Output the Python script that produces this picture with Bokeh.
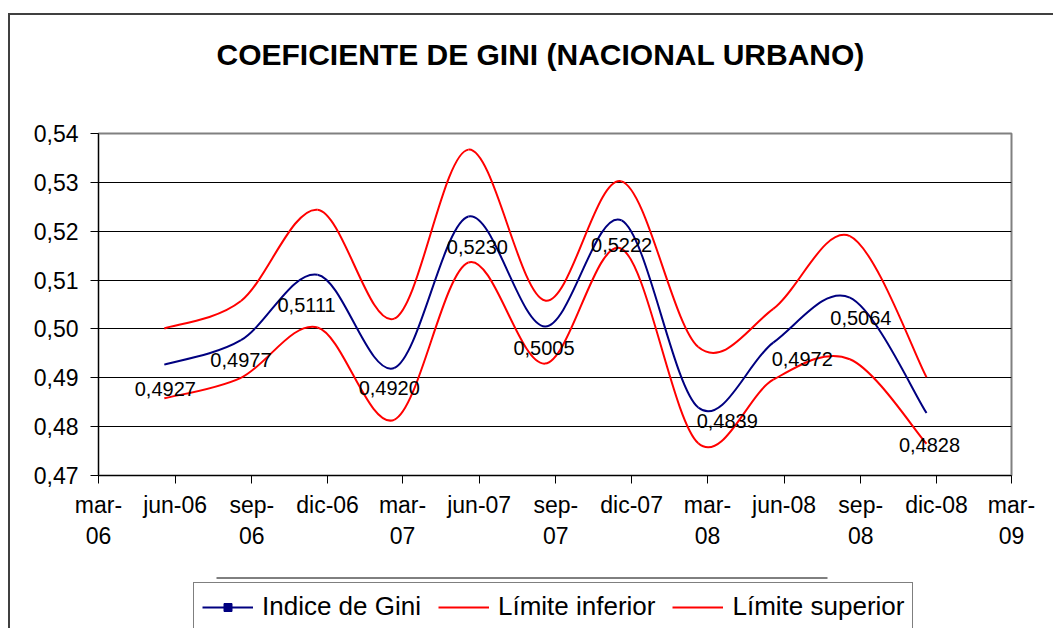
import pandas as pd
from bokeh.plotting import figure
from bokeh.layouts import column
from bokeh.models import (Range1d, FixedTicker, CustomJSTickFormatter, ColumnDataSource,
                          Legend, LegendItem)
from bokeh.core.properties import value
from bokeh.embed import file_html
from bokeh.resources import INLINE

# ---------------- data ----------------
titulo = "COEFICIENTE DE GINI (NACIONAL URBANO)"
fechas = ["2006-05-19", "2006-08-19", "2006-11-19", "2007-02-19", "2007-05-19",
          "2007-08-19", "2007-11-19", "2008-02-19", "2008-05-19", "2008-08-19",
          "2008-11-19"]
gini = [0.4927, 0.4977, 0.5111, 0.4920, 0.5230, 0.5005, 0.5222, 0.4839, 0.4972, 0.5064, 0.4828]
lim_inf = [0.4858, 0.4900, 0.5003, 0.4814, 0.5136, 0.4929, 0.5164, 0.4766, 0.4896, 0.4938, 0.4765]
lim_sup = [0.5001, 0.5057, 0.5244, 0.5021, 0.5367, 0.5058, 0.5302, 0.4963, 0.5041, 0.5190, 0.4901]
serie_nombres = ["Indice de Gini", "Límite inferior", "Límite superior"]

tick_fechas = ["2006-03-01", "2006-06-01", "2006-09-01", "2006-12-01", "2007-03-01",
               "2007-06-01", "2007-09-01", "2007-12-01", "2008-03-01", "2008-06-01",
               "2008-09-01", "2008-12-01", "2009-03-01"]
tick_etiquetas = ["mar-\n06", "jun-06", "sep-\n06", "dic-06", "mar-\n07", "jun-07",
                  "sep-\n07", "dic-07", "mar-\n08", "jun-08", "sep-\n08", "dic-08", "mar-\n09"]
y_ticks = [0.47, 0.48, 0.49, 0.50, 0.51, 0.52, 0.53, 0.54]

# label placement (pixels, screen offsets) - style only
lab_dx = [1, 0, -11, -5, 9, -1, 0, 29, 29, 11, 3]
lab_dy = [24, 20, 30, 20, 30, 22, 25, 13, 16, 20, 32]

# ---------------- helpers ----------------
base = pd.Timestamp(tick_fechas[0])
xs = [float((pd.Timestamp(f) - base).days) for f in fechas]
tick_x = [int((pd.Timestamp(f) - base).days) for f in tick_fechas]


def bezier_source(xv, yv):
    n = len(xv)
    d = dict(x0=[], y0=[], x1=[], y1=[], cx0=[], cy0=[], cx1=[], cy1=[])
    for i in range(n - 1):
        ip = i - 1 if i > 0 else i
        inn = i + 2 if i + 2 < n else i + 1
        d["x0"].append(xv[i]); d["y0"].append(yv[i])
        d["x1"].append(xv[i + 1]); d["y1"].append(yv[i + 1])
        d["cx0"].append(xv[i] + (xv[i + 1] - xv[ip]) / 6.0)
        d["cy0"].append(yv[i] + (yv[i + 1] - yv[ip]) / 6.0)
        d["cx1"].append(xv[i + 1] - (xv[inn] - xv[i]) / 6.0)
        d["cy1"].append(yv[i + 1] - (yv[inn] - yv[i]) / 6.0)
    return ColumnDataSource(d)


FONT = "Liberation Sans"
AZUL = "#000080"
ROJO = "#FF0000"
BORDE = "2px solid #404040"

W = 1045
ML, MR = 88, 44
H0, H1, H2 = 87, 460, 68
FRAME_W = W - ML - MR

# ---------- title strip ----------
p0 = figure(width=W, height=H0, output_backend="svg", toolbar_location=None,
            x_axis_location=None, y_axis_location=None,
            min_border_left=ML, min_border_right=MR, min_border_top=60, min_border_bottom=0,
            outline_line_color=None, background_fill_color="white", border_fill_color="white")
p0.grid.visible = False
p0.title.text = titulo
p0.title.text_font = FONT
p0.title.text_font_size = "30px"
p0.title.text_font_style = "bold"
p0.title.text_color = "black"
p0.title.align = "left"
p0.title.offset = 118
p0.title.standoff = 10
p0.margin = (13, 0, 0, 8)
p0.styles = {"border-left": BORDE, "border-top": BORDE}

# ---------- main chart ----------
p = figure(width=W, height=H1, output_backend="svg", toolbar_location=None,
           x_range=Range1d(0, tick_x[-1]), y_range=Range1d(y_ticks[0], y_ticks[-1]),
           min_border_left=ML, min_border_right=MR, min_border_top=33, min_border_bottom=85,
           background_fill_color="white", border_fill_color="white")
p.margin = (0, 0, 0, 8)
p.styles = {"border-left": BORDE}
p.outline_line_color = "#808080"
p.outline_line_width = 2

xax = p.xaxis[0]
yax = p.yaxis[0]
xax.ticker = FixedTicker(ticks=tick_x)
xax.major_label_overrides = {t: lab for t, lab in zip(tick_x, tick_etiquetas)}
xax.minor_tick_line_color = None
xax.major_tick_in = 0
xax.major_tick_out = 8
xax.major_label_standoff = 8
xax.major_label_text_font = FONT
xax.major_label_text_font_size = "23px"
xax.major_label_text_line_height = 1.2
xax.major_label_text_color = "black"
xax.axis_line_color = "black"
xax.major_tick_line_color = "black"

yax.ticker = FixedTicker(ticks=y_ticks)
yax.formatter = CustomJSTickFormatter(code="return tick.toFixed(2).replace('.', ',');")
yax.minor_tick_line_color = None
yax.major_tick_in = 0
yax.major_tick_out = 8
yax.major_label_standoff = 12
yax.major_label_text_font = FONT
yax.major_label_text_font_size = "23px"
yax.major_label_text_color = "black"
yax.axis_line_color = "black"
yax.major_tick_line_color = "black"

p.xgrid.visible = False
p.ygrid.ticker = FixedTicker(ticks=y_ticks[1:-1])
p.ygrid.grid_line_color = "black"
p.ygrid.grid_line_width = 1

# series (smoothed like Excel)
for serie, color in ((gini, AZUL), (lim_inf, ROJO), (lim_sup, ROJO)):
    p.bezier(source=bezier_source(xs, serie), x0="x0", y0="y0", x1="x1", y1="y1",
             cx0="cx0", cy0="cy0", cx1="cx1", cy1="cy1", line_color=color, line_width=2)

# data labels
lab_src = ColumnDataSource(dict(x=xs, y=gini,
                                txt=[f"{v:.4f}".replace(".", ",") for v in gini],
                                dx=lab_dx, dy=lab_dy))
p.text(x="x", y="y", text="txt", x_offset="dx", y_offset="dy", source=lab_src,
       text_align="center", text_baseline="middle", text_font=value(FONT),
       text_font_size="20px", text_color="black")

# ---------- legend strip (its frame is aligned with the chart frame) ----------
p2 = figure(width=W, height=H2, output_backend="svg", toolbar_location=None,
            x_axis_location=None, y_axis_location=None,
            x_range=Range1d(ML, ML + FRAME_W), y_range=Range1d(H2, 0),
            min_border_left=0, min_border_right=0, min_border_top=0, min_border_bottom=0,
            outline_line_color=None, background_fill_color="white", border_fill_color="white")
p2.grid.visible = False
p2.margin = (0, 0, 0, 8)
p2.styles = {"border-left": BORDE}

# decorative rule above the legend (strip pixel coordinates)
RULE_X0, RULE_X1, RULE_Y = 206, 817, 17.5
p2.segment(x0=[RULE_X0], y0=[RULE_Y], x1=[RULE_X1], y1=[RULE_Y], line_color="black", line_width=1)

# legend proxies carry the series data; hidden in the strip
lg_l = p2.line(x=xs, y=gini, line_color=AZUL, line_width=2, visible=False)
lg_m = p2.scatter(x=xs, y=gini, marker="square", size=7, fill_color=AZUL, line_color=AZUL,
                  visible=False)
lg_i = p2.line(x=xs, y=lim_inf, line_color=ROJO, line_width=2, visible=False)
lg_s = p2.line(x=xs, y=lim_sup, line_color=ROJO, line_width=2, visible=False)
legend = Legend(items=[LegendItem(label=serie_nombres[0], renderers=[lg_l, lg_m]),
                       LegendItem(label=serie_nombres[1], renderers=[lg_i]),
                       LegendItem(label=serie_nombres[2], renderers=[lg_s])],
                location=(95, -3), orientation="horizontal",
                label_text_font=FONT, label_text_font_size="26px", label_text_color="black",
                glyph_width=51, glyph_height=20, label_standoff=9, spacing=17,
                padding=8, margin=0, label_height=28,
                inactive_fill_alpha=0,
                border_line_color="black", border_line_width=1,
                background_fill_color="white", background_fill_alpha=1)
p2.add_layout(legend)

layout = column(p0, p, p2, spacing=0)
open("out.html", "w").write(file_html(layout, INLINE))
